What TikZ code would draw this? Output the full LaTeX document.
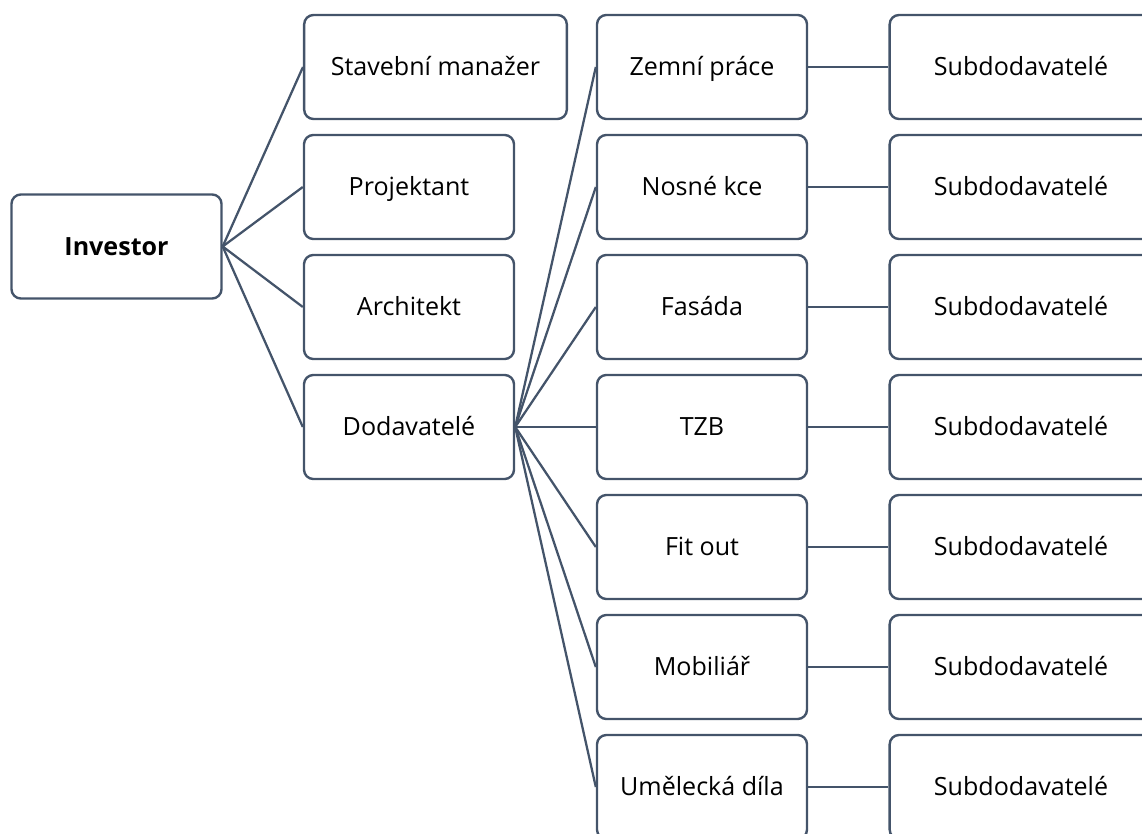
\documentclass[tikz,border=0pt]{standalone}
\usepackage{fontspec}
\setmainfont{Open Sans}
\definecolor{edge}{HTML}{44546A}
\begin{document}
\begin{tikzpicture}[x=0.75pt,y=-0.75pt,
  box/.style={draw=edge, line width=1.8pt, rounded corners=7pt,
    minimum width=157.5pt, minimum height=78pt, inner sep=0pt,
    text height=15.5pt, text depth=2.5pt,
    fill=white, text=black, font=\fontsize{18.8}{22}\selectfont},
  widebox/.style={box, minimum width=197pt},
  link/.style={draw=edge, line width=1.7pt}]
\useasboundingbox (0,0) rectangle (1142,834);
\clip (0,0) rectangle (1142,834);

% root
\node[box, font=\fontsize{18.8}{22}\selectfont\bfseries] (inv) at (116.5,246.5) {Investor};

% first level
\node[widebox] (sm)   at (435.5,67) {Stavební manažer};
\node[box]     (proj) at (409,187)  {Projektant};
\node[box]     (arch) at (409,307)  {Architekt};
\node[box]     (dod)  at (409,427)  {Dodavatelé};

% trades
\node[box] (t1) at (702,67)  {Zemní práce};
\node[box] (t2) at (702,187) {Nosné kce};
\node[box] (t3) at (702,307) {Fasáda};
\node[box] (t4) at (702,427) {TZB};
\node[box] (t5) at (702,547) {Fit out};
\node[box] (t6) at (702,667) {Mobiliář};
\node[box] (t7) at (702,787) {Umělecká díla};

% subcontractors
\foreach \i/\y in {1/67,2/187,3/307,4/427,5/547,6/667,7/787}
  \node[widebox] (s\i) at (1021,\y) {Subdodavatelé};

% connectors
\foreach \n in {sm,proj,arch,dod}
  \draw[link] (inv.east) -- (\n.west);
\foreach \i in {1,...,7} {
  \draw[link] (dod.east) -- (t\i.west);
  \draw[link] (t\i.east) -- (s\i.west);
}
\end{tikzpicture}
\end{document}
